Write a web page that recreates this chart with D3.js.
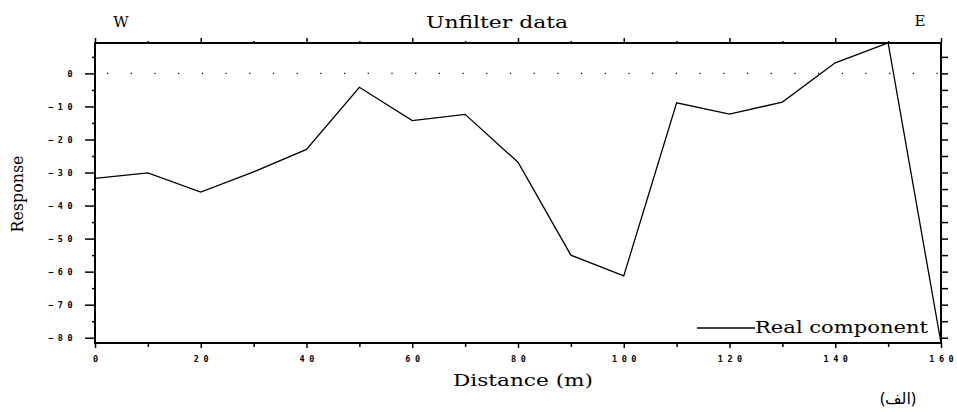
<!DOCTYPE html>
<html>
<head>
<meta charset="utf-8">
<script src="https://cdn.jsdelivr.net/npm/d3@7"></script>
<style>
body { margin:0; background:#fff; }
svg { display:block; }
.tick text { font-family:"DejaVu Sans Mono", monospace; font-weight:bold; font-size:8.5px; letter-spacing:4.5px; fill:#000; }
.axis path, .axis line { stroke:#000; }
</style>
</head>
<body>
<svg id="chart"></svg>
<script>
// values
var distance = [0,10,20,30,40,50,60,70,80,90,100,110,120,130,140,150,160];
var response = [-31.8,-30.1,-35.9,-29.8,-23.0,-4.2,-14.3,-12.4,-26.9,-55.0,-61.3,-8.9,-12.3,-8.7,3.2,9.2,-81.6];

var xTicks = [0,20,40,60,80,100,120,140,160];
var xMinor = [10,30,50,70,90,110,130,150];
var yTicks = [0,-10,-20,-30,-40,-50,-60,-70,-80];
var yMinor = [5,-5,-15,-25,-35,-45,-55,-65,-75];
var yAll = [5,0,-5,-10,-15,-20,-25,-30,-35,-40,-45,-50,-55,-60,-65,-70,-75,-80];

var screen = {width:957, height:412};
var margins = {top:43, bottom:69, left:95, right:16};
var graph = {
    width:screen.width-margins.left-margins.right,
    height:screen.height-margins.top-margins.bottom
};

var svg = d3.select("#chart")
    .attr("width",screen.width)
    .attr("height",screen.height);

var xScale = d3.scaleLinear().domain([0,160]).range([0,graph.width]);
var yScale = d3.scaleLinear().domain([-81.6,9.2]).range([graph.height,0]);

var g = svg.append("g")
    .attr("transform","translate("+margins.left+","+margins.top+")");

// dotted zero line
g.append("line")
    .attr("x1",xScale(0)+12).attr("x2",graph.width)
    .attr("y1",yScale(0)).attr("y2",yScale(0))
    .attr("stroke","#000")
    .attr("stroke-width",1.2)
    .attr("stroke-dasharray","1.2,22.5");

// minor ticks first, majors on top
var addAxis = function(axis, transform){
    return g.append("g").classed("axis",true)
        .attr("transform",transform)
        .call(axis);
};

addAxis(d3.axisBottom(xScale).tickValues(xMinor).tickSize(4).tickFormat(""),"translate(0,"+graph.height+")");
var bottom = addAxis(d3.axisBottom(xScale).tickValues(xTicks).tickSize(5).tickPadding(8).tickFormat(d3.format("d")),"translate(0,"+graph.height+")");
addAxis(d3.axisTop(xScale).tickValues(xMinor).tickSize(2).tickFormat(""),"translate(0,0)");
addAxis(d3.axisTop(xScale).tickValues(xTicks).tickSize(5).tickFormat(""),"translate(0,0)");
addAxis(d3.axisLeft(yScale).tickValues(yMinor).tickSize(3).tickFormat(""),"translate(0,0)");
var left = addAxis(d3.axisLeft(yScale).tickValues(yTicks).tickSize(10).tickPadding(8).tickFormat(d3.format("d")),"translate(0,0)");
addAxis(d3.axisRight(yScale).tickValues(yAll).tickSize(7).tickFormat(""),"translate("+graph.width+",0)");

// letter-spacing leaves a trailing gap, shift labels to compensate
bottom.selectAll("text").attr("dx",2.2);

g.selectAll(".axis path").attr("d",null);
g.selectAll(".axis line").attr("stroke-width",1.5);

// frame
g.append("rect")
    .attr("x",0).attr("y",0)
    .attr("width",graph.width).attr("height",graph.height)
    .attr("fill","none").attr("stroke","#000").attr("stroke-width",2);

// data line
var lineGenerator = d3.line()
    .x(function(d,i){ return xScale(distance[i]); })
    .y(function(d){ return yScale(d); });

g.append("path")
    .datum(response)
    .attr("d",lineGenerator)
    .attr("fill","none")
    .attr("stroke","#000")
    .attr("stroke-width",1.3);

// labels
var serif = "'DejaVu Serif', serif";
var labels = svg.append("g").attr("font-family",serif).attr("fill","#000");

labels.append("text").text("Unfilter data")
    .attr("x",497).attr("y",28).attr("text-anchor","middle")
    .attr("font-size",16).attr("textLength",142).attr("lengthAdjust","spacingAndGlyphs");
labels.append("text").text("W")
    .attr("x",121).attr("y",27).attr("text-anchor","middle").attr("font-size",15);
labels.append("text").text("E")
    .attr("x",920).attr("y",26).attr("text-anchor","middle").attr("font-size",15);
labels.append("text").text("Distance (m)")
    .attr("x",523).attr("y",386).attr("text-anchor","middle")
    .attr("font-size",17).attr("textLength",140).attr("lengthAdjust","spacingAndGlyphs");
labels.append("g")
    .attr("transform","translate(23,194)")
    .append("text").text("Response")
    .attr("text-anchor","middle")
    .attr("transform","rotate(-90)")
    .attr("font-size",16).attr("textLength",77).attr("lengthAdjust","spacingAndGlyphs");

// legend
var legend = svg.append("g");
legend.append("line")
    .attr("x1",697).attr("x2",755).attr("y1",328).attr("y2",328)
    .attr("stroke","#000").attr("stroke-width",1.3);
legend.append("text").text("Real component")
    .attr("x",755).attr("y",333)
    .attr("font-family",serif).attr("font-size",16)
    .attr("textLength",173).attr("lengthAdjust","spacingAndGlyphs");

svg.append("text").text("(الف)")
    .attr("x",898).attr("y",404).attr("text-anchor","middle")
    .attr("font-family","'Noto Sans', 'DejaVu Sans', sans-serif").attr("font-size",16)
    .attr("direction","rtl");
</script>
</body>
</html>
